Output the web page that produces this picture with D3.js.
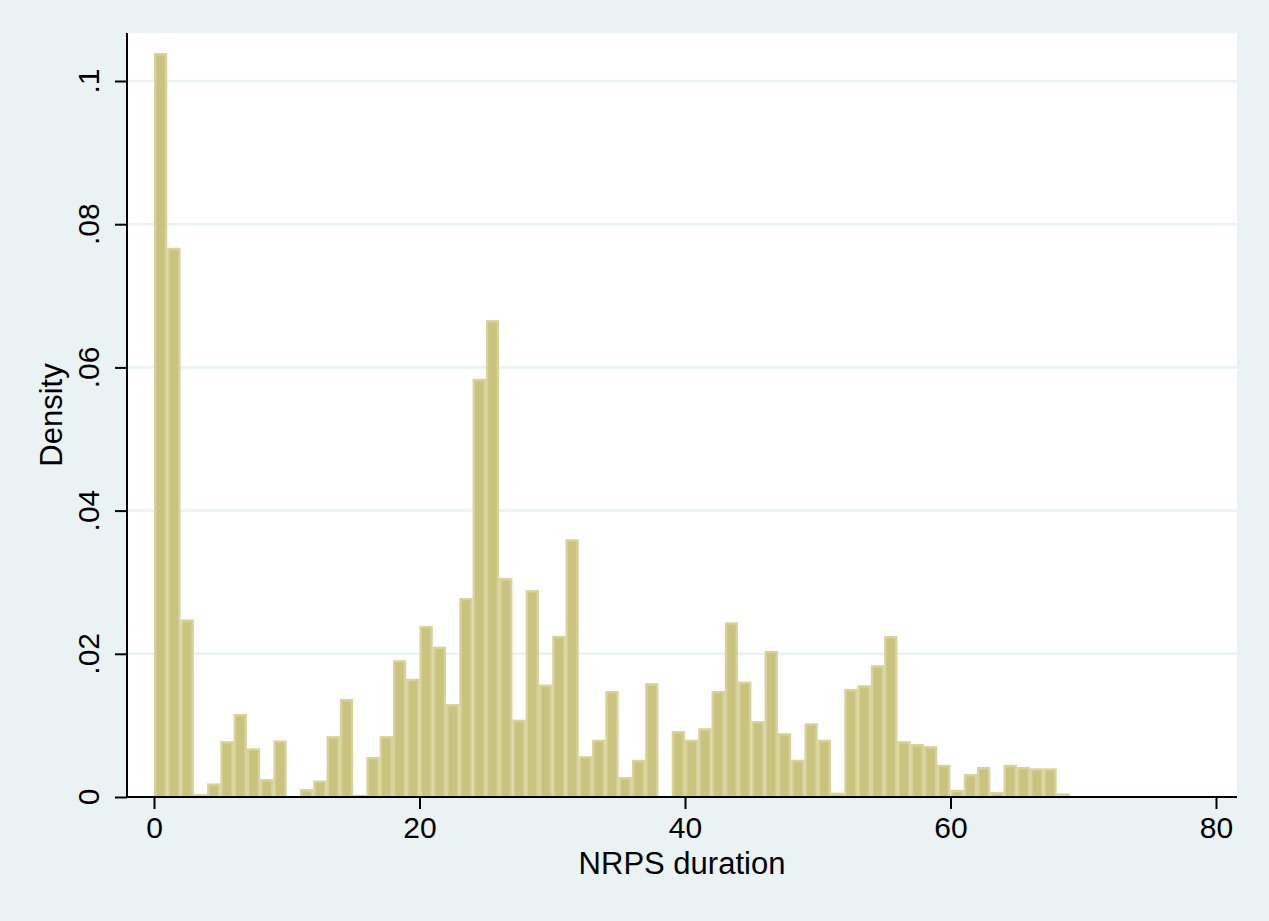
<!DOCTYPE html>
<html>
<head>
<meta charset="utf-8">
<script src="https://cdn.jsdelivr.net/npm/d3@7"></script>
<style>
  html, body { margin: 0; padding: 0; background: #eaf2f3; }
  #chart { width: 1269px; height: 921px; }
  text { font-family: "Liberation Sans", Arial, sans-serif; fill: #000; }
</style>
</head>
<body>
<div id="chart"></div>
<script>
// histogram of NRPS duration, bins of width 1 starting at 0
const binStart = 0;
const binWidth = 1;
const density = [
  0.1039, 0.0767, 0.0248, 0.0004, 0.0019, 0.0078, 0.0116, 0.0068, 0.0025, 0.0079,
  0.0000, 0.0011, 0.0023, 0.0085, 0.0137, 0.0003, 0.0056, 0.0085, 0.0191, 0.0165,
  0.0239, 0.0210, 0.0130, 0.0278, 0.0584, 0.0666, 0.0306, 0.0108, 0.0289, 0.0157,
  0.0225, 0.0360, 0.0057, 0.0080, 0.0148, 0.0028, 0.0052, 0.0159, 0.0000, 0.0092,
  0.0080, 0.0096, 0.0148, 0.0244, 0.0161, 0.0106, 0.0204, 0.0089, 0.0052, 0.0103,
  0.0080, 0.0006, 0.0151, 0.0156, 0.0184, 0.0225, 0.0078, 0.0074, 0.0071, 0.0045,
  0.0010, 0.0032, 0.0042, 0.0007, 0.0045, 0.0042, 0.0040, 0.0040, 0.0005
];
const xTicks = [0, 20, 40, 60, 80];
const yTicks = [0, 0.02, 0.04, 0.06, 0.08, 0.1];
const yTickLabels = ["0", ".02", ".04", ".06", ".08", ".1"];
const xTitle = "NRPS duration";
const yTitle = "Density";

const W = 1269, H = 921;
const plot = { left: 127, right: 1237, top: 33, bottom: 797 };

const svg = d3.select("#chart").append("svg")
  .attr("width", W)
  .attr("height", H)
  .attr("viewBox", [0, 0, W, H]);

svg.append("rect")
  .attr("width", W).attr("height", H)
  .attr("fill", "#eaf2f3");

svg.append("rect")
  .attr("x", plot.left).attr("y", plot.top)
  .attr("width", plot.right - plot.left)
  .attr("height", plot.bottom - plot.top)
  .attr("fill", "#fff");

// Scales
const x = d3.scaleLinear().domain([0, 80]).range([154, 1216]);
const y = d3.scaleLinear().domain([0, 0.1]).range([plot.bottom, 81]);

// Grid
svg.append("g")
  .selectAll("line")
  .data(yTicks.filter((d) => d > 0))
  .join("line")
  .attr("x1", plot.left)
  .attr("x2", plot.right)
  .attr("y1", (d) => y(d))
  .attr("y2", (d) => y(d))
  .attr("stroke", "#eaf2f3")
  .attr("stroke-width", 2.5);

// Bars
const sw = 2.4;
svg.append("g")
  .selectAll("rect")
  .data(density)
  .join("rect")
  .attr("x", (d, i) => x(binStart + i * binWidth) + sw / 2)
  .attr("width", (d, i) => x(binStart + (i + 1) * binWidth) - x(binStart + i * binWidth) - sw)
  .attr("y", (d) => y(d) + sw / 2)
  .attr("height", (d) => Math.max(0, y(0) - y(d) - sw / 2))
  .attr("fill", "#cac37e")
  .attr("stroke", "#d8d29c")
  .attr("stroke-width", (d) => (d > 0 ? sw : 0));

// X axis
svg.append("g")
  .attr("transform", `translate(0,${plot.bottom})`)
  .call(d3.axisBottom(x).tickValues(xTicks).tickSize(12).tickPadding(8).tickFormat(d3.format("d")))
  .call((g) => g.select(".domain").remove())
  .call((g) => g.selectAll(".tick line").attr("stroke", "#000").attr("stroke-width", 2))
  .selectAll("text")
  .attr("font-family", "Liberation Sans, Arial, sans-serif")
  .style("font-size", "30px")
  .attr("fill", "#000");

svg.append("line")
  .attr("x1", plot.left - 1).attr("x2", plot.right)
  .attr("y1", plot.bottom).attr("y2", plot.bottom)
  .attr("stroke", "#000").attr("stroke-width", 2);

// Y axis
svg.append("g")
  .attr("transform", `translate(${plot.left},0)`)
  .call(d3.axisLeft(y).tickValues(yTicks).tickSize(12).tickFormat("").tickSizeOuter(0))
  .call((g) => g.select(".domain").remove())
  .call((g) => g.selectAll(".tick line").attr("stroke", "#000").attr("stroke-width", 2));

svg.append("g")
  .selectAll("text")
  .data(yTicks)
  .join("text")
  .attr("transform", (d) => `translate(99,${y(d)}) rotate(-90)`)
  .attr("text-anchor", "middle")
  .style("font-size", "30px")
  .text((d, i) => yTickLabels[i]);

svg.append("line")
  .attr("x1", plot.left).attr("x2", plot.left)
  .attr("y1", plot.top).attr("y2", plot.bottom + 1)
  .attr("stroke", "#000").attr("stroke-width", 2);

// Titles
svg.append("text")
  .attr("x", (plot.left + plot.right) / 2)
  .attr("y", 874)
  .attr("text-anchor", "middle")
  .style("font-size", "31px")
  .text(xTitle);

svg.append("text")
  .attr("transform", `translate(62,${(plot.top + plot.bottom) / 2}) rotate(-90)`)
  .attr("text-anchor", "middle")
  .style("font-size", "31px")
  .text(yTitle);
</script>
</body>
</html>
